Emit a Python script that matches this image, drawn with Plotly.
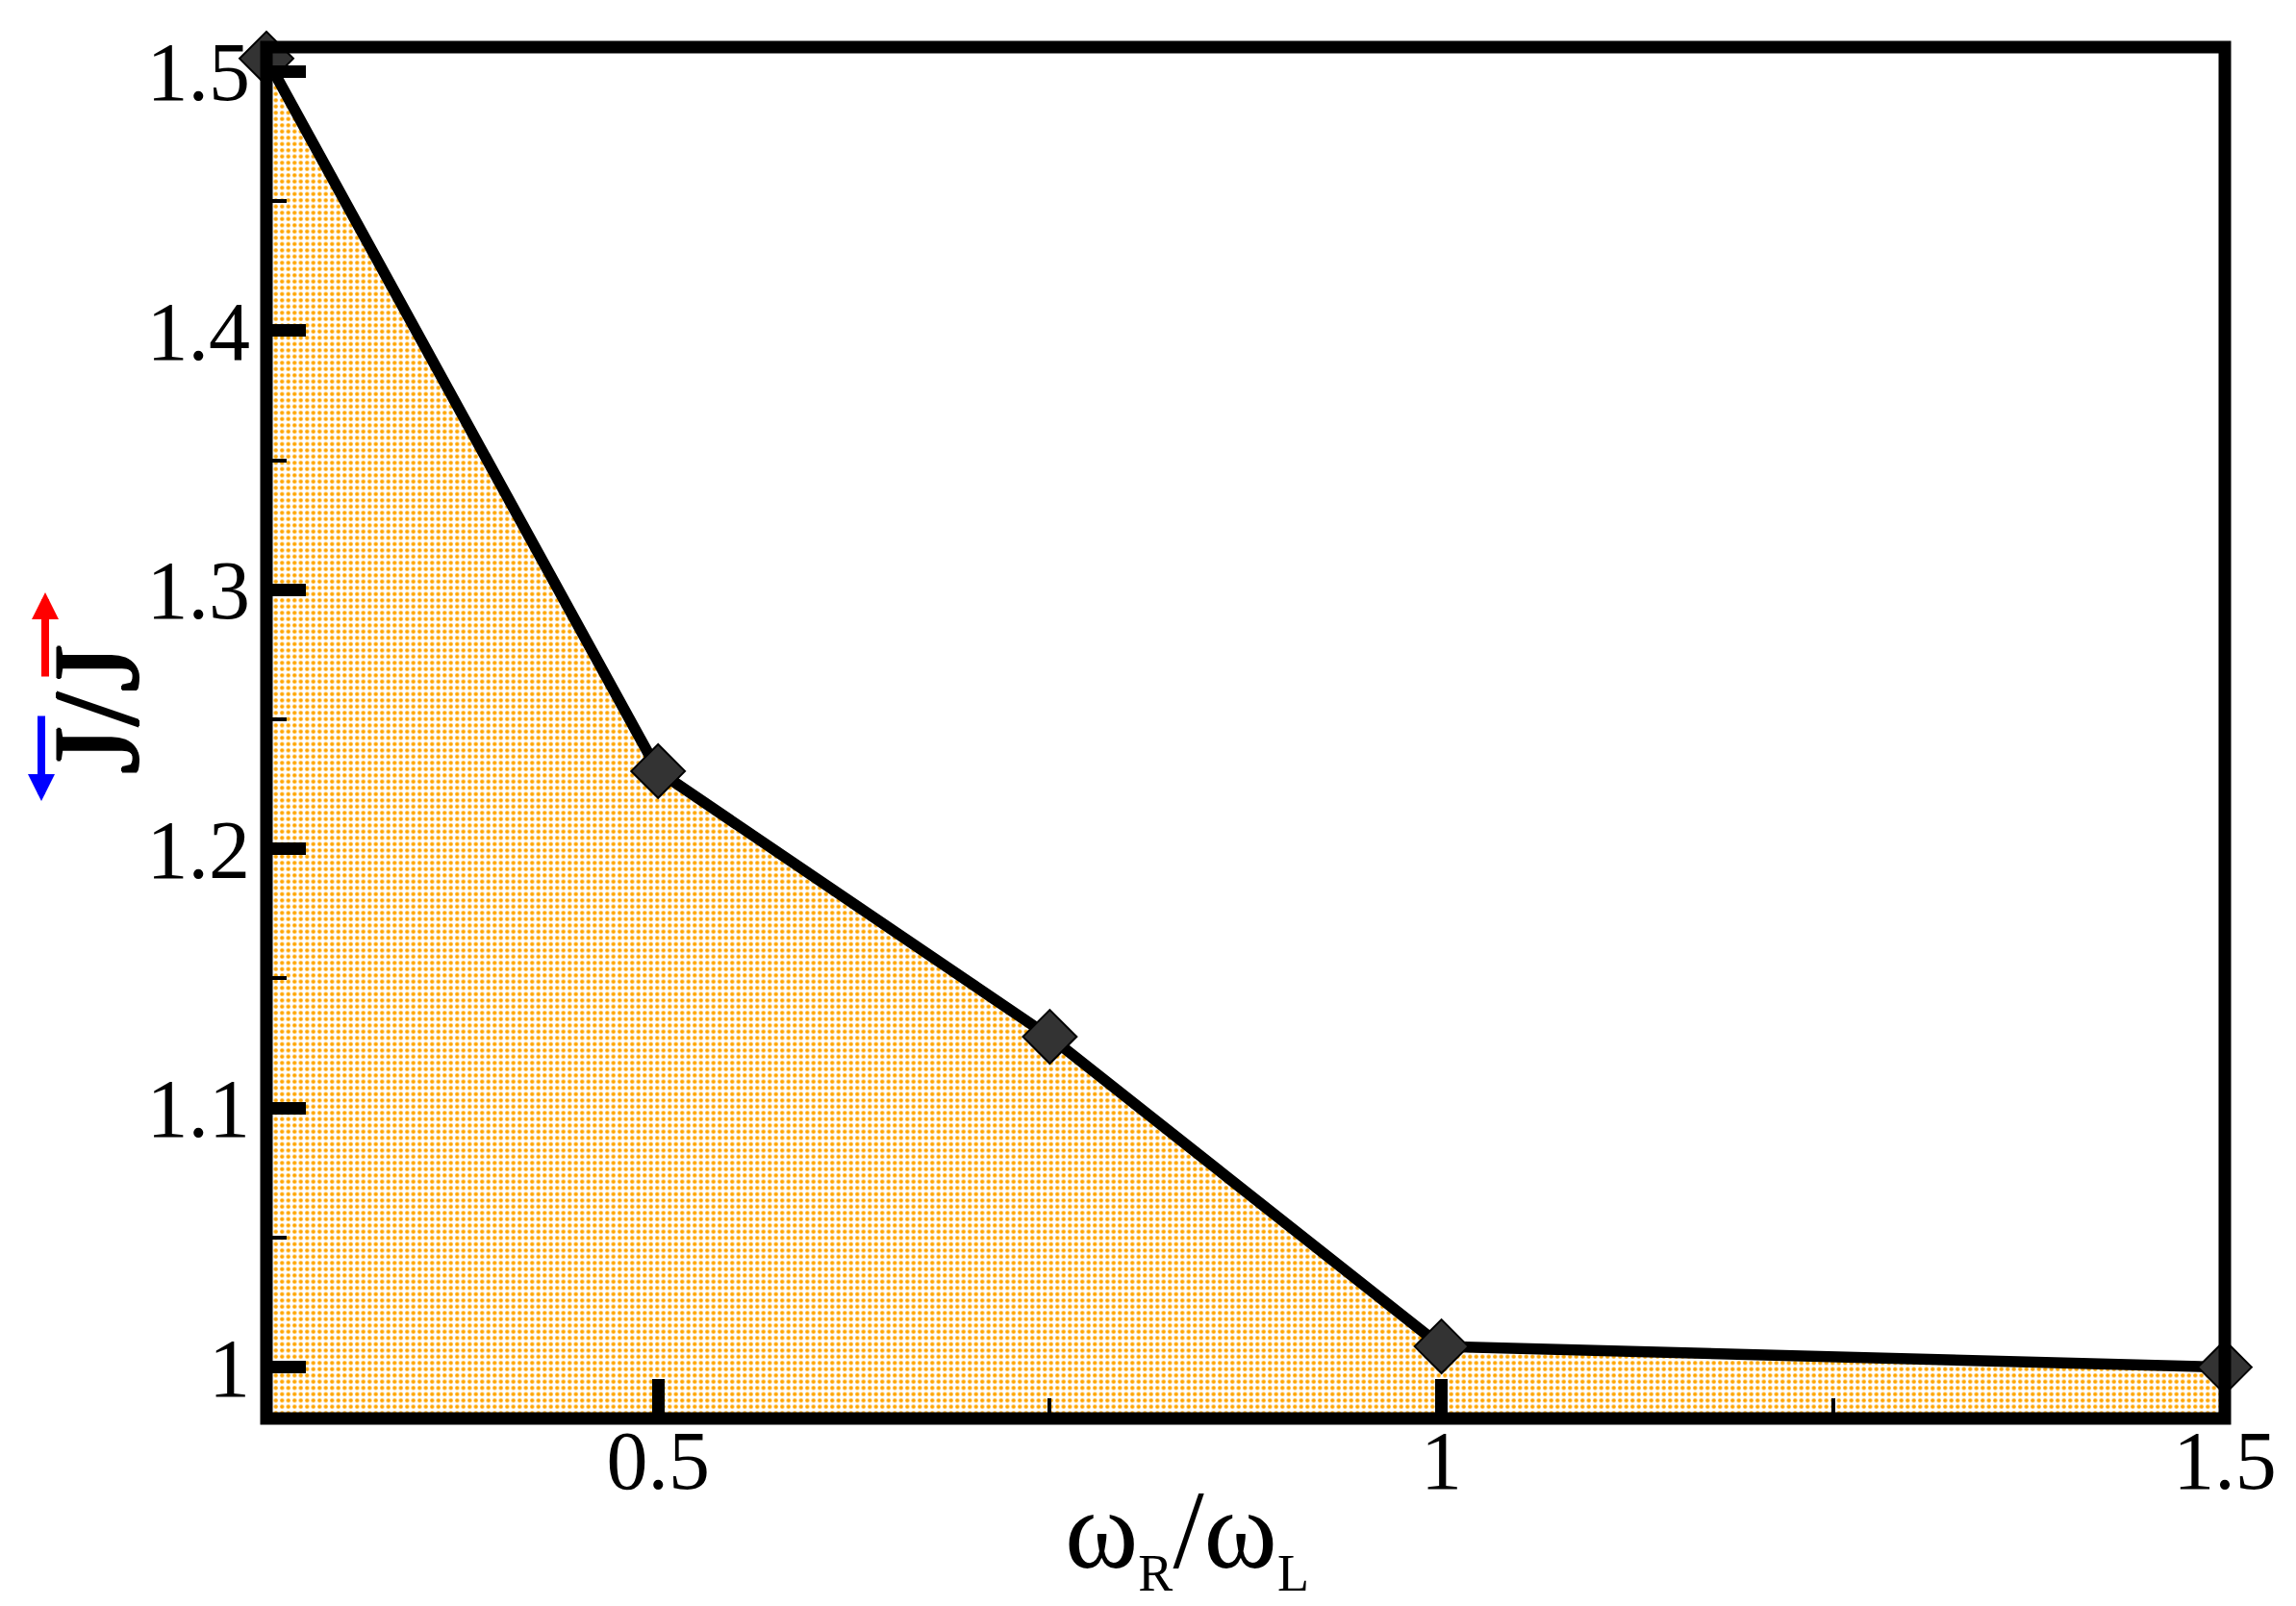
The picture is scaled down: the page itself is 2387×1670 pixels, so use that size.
import plotly.graph_objects as go

# === DATA ===
ratio = [0.25, 0.5, 0.75, 1.0, 1.5]                  # omega_R / omega_L
current_ratio = [1.505, 1.23, 1.1275, 1.008, 1.0]    # J_left / J_right

x_tickvals = [0.5, 1.0, 1.5]
x_ticktext = ['0.5', '1', '1.5']
x_minor = [0.25, 0.75, 1.25]
y_tickvals = [1.0, 1.1, 1.2, 1.3, 1.4, 1.5]
y_ticktext = ['1', '1.1', '1.2', '1.3', '1.4', '1.5']
y_minor = [1.05, 1.15, 1.25, 1.35, 1.45]

FONT = 'Liberation Serif'
W, H = 2387, 1670
L, R, T, B = 277, 74, 49, 195
PW, PH = W - L - R, H - T - B


def px_x(p):
    return (p - L) / PW


def px_y(p):
    return (H - B - p) / PH


fig = go.Figure()

# shaded region under the curve + line + markers
fig.add_trace(go.Scatter(
    x=ratio, y=current_ratio,
    mode='lines+markers',
    fill='tozeroy',
    fillpattern=dict(shape='.', fgcolor='#FFA500', bgcolor='white',
                     size=6.5, solidity=0.34, fillmode='replace'),
    line=dict(color='black', width=11.5),
    marker=dict(symbol='diamond', size=43, color='#333333',
                line=dict(color='black', width=2)),
    cliponaxis=False,
    showlegend=False,
))

tick_style = dict(
    showgrid=False, zeroline=False, showline=False,
    tickmode='array',
    ticks='inside', ticklen=41, tickwidth=13, tickcolor='black',
    tickfont=dict(family=FONT, size=86, color='black'),
)
fig.update_xaxes(
    range=[0.25, 1.5], tickvals=x_tickvals, ticktext=x_ticktext,
    ticklabelstandoff=-14,
    minor=dict(ticks='inside', ticklen=21, tickwidth=4, tickcolor='black',
               tickmode='array', tickvals=x_minor),
    **tick_style,
)
fig.update_yaxes(
    range=[0.9802, 1.5094], tickvals=y_tickvals, ticktext=y_ticktext,
    ticklabelstandoff=16,
    minor=dict(ticks='inside', ticklen=21, tickwidth=4, tickcolor='black',
               tickmode='array', tickvals=y_minor),
    **tick_style,
)

# frame around the plot area
fig.add_shape(type='rect', xref='paper', yref='paper', x0=0, x1=1, y0=0, y1=1,
              line=dict(color='black', width=13), layer='above')

# axis titles
fig.add_annotation(
    xref='paper', yref='paper', x=px_x(1234), y=px_y(1596),
    text='ω<sub><span style="font-size:54px">R</span></sub>/ω<sub><span style="font-size:54px">L</span></sub>',
    showarrow=False, font=dict(family=FONT, size=116, color='black'),
    xanchor='center', yanchor='middle',
)
fig.add_annotation(
    xref='paper', yref='paper', x=px_x(100), y=px_y(738),
    text='J/J', textangle=-90,
    showarrow=False,
    font=dict(family=FONT, size=128, color='black',
              shadow='1.2px 0 0 black, -1.2px 0 0 black, 0 1.2px 0 black, 0 -1.2px 0 black'),
    xanchor='center', yanchor='middle',
)
# direction arrows above each J
fig.add_annotation(
    xref='paper', yref='paper', x=px_x(47), y=px_y(616), ax=0, ay=89,
    text='', showarrow=True, arrowhead=2, arrowsize=0.7, arrowwidth=8,
    arrowcolor='red',
)
fig.add_annotation(
    xref='paper', yref='paper', x=px_x(43), y=px_y(833), ax=0, ay=-90,
    text='', showarrow=True, arrowhead=2, arrowsize=0.7, arrowwidth=8,
    arrowcolor='blue',
)

fig.update_layout(
    width=W, height=H,
    margin=dict(l=L, r=R, t=T, b=B, pad=0),
    paper_bgcolor='white', plot_bgcolor='white',
    showlegend=False,
)

# drop the browser's default body margin so the figure sits at the page corner
fig.write_html('out.html', config={'displayModeBar': False},
               post_script="document.body.style.margin='0';")
